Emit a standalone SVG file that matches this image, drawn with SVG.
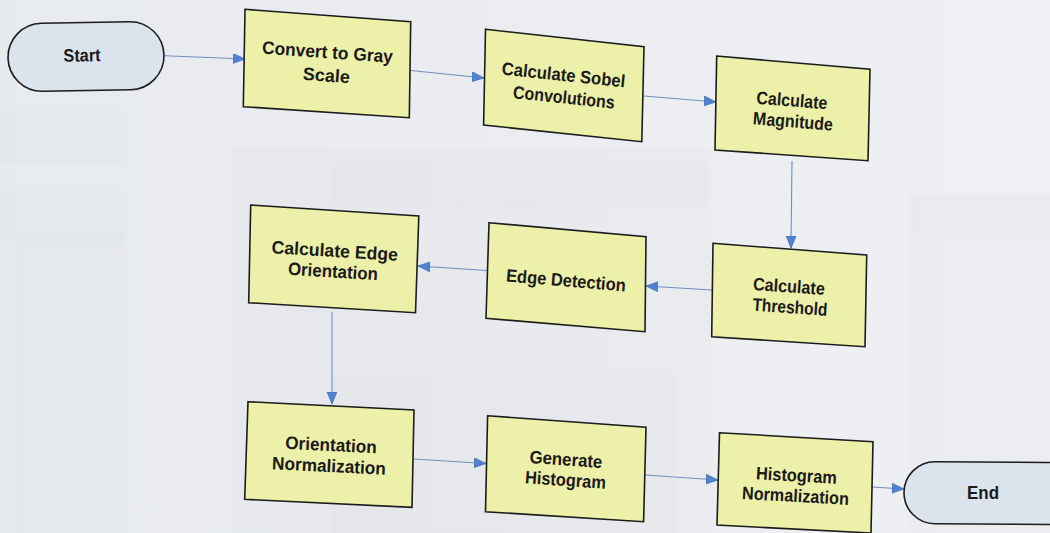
<svg xmlns="http://www.w3.org/2000/svg" width="1050" height="533" viewBox="0 0 1050 533">
  <defs>
    <linearGradient id="paper" x1="0" y1="0" x2="1" y2="0">
      <stop offset="0" stop-color="#e7eaee"/>
      <stop offset="1" stop-color="#eef0f3"/>
    </linearGradient>
    <filter id="soft" x="-5%" y="-5%" width="110%" height="110%">
      <feGaussianBlur stdDeviation="2"/>
    </filter>
    <marker id="arrow" markerUnits="userSpaceOnUse" markerWidth="13" markerHeight="11" refX="12" refY="5" orient="auto">
      <path d="M0,0 L12,5 L0,10 Z" fill="#4f82cf" stroke="#3a66a8" stroke-width="0.6"/>
    </marker>
    <style>
      .box { fill: #edf0a8; stroke: #1c1c1c; stroke-width: 1.6; stroke-linejoin: miter; }
      .pill { fill: #dbe3ec; stroke: #1c1c1c; stroke-width: 1.6; }
      .lbl { font-family: "Liberation Sans", Arial, sans-serif; font-weight: bold; font-size: 18px; fill: #1a1a1a; text-anchor: middle; }
      .link { fill: none; stroke: #6f8fbf; stroke-width: 1.1; marker-end: url(#arrow); }
      .ghost { fill: #000; fill-opacity: 0.012; stroke: #000; stroke-opacity: 0.025; stroke-width: 1.5; }
    </style>
  </defs>

  <!-- paper -->
  <rect x="0" y="0" width="1050" height="533" fill="url(#paper)"/>

  <!-- faint show-through of the page underneath -->
  <g filter="url(#soft)">
    <rect class="ghost" x="0" y="112" width="125" height="50"/>
    <rect class="ghost" x="0" y="192" width="125" height="48"/>
    <rect class="ghost" x="18" y="240" width="105" height="293"/>
    <rect class="ghost" x="232" y="150" width="478" height="383"/>
    <rect class="ghost" x="333" y="165" width="372" height="40"/>
    <rect class="ghost" x="333" y="375" width="340" height="158"/>
    <rect class="ghost" x="912" y="196" width="138" height="337"/>
    <rect class="ghost" x="912" y="196" width="138" height="38"/>
  </g>

  <!-- connectors -->
  <g id="connectors">
    <path class="link" d="M165,55.7 L245,59"/>
    <path class="link" d="M411,70.5 L484,78"/>
    <path class="link" d="M644,96 L716,102"/>
    <path class="link" d="M792,161 L791,248"/>
    <path class="link" d="M712,290 L646,286"/>
    <path class="link" d="M487,270.5 L418,266"/>
    <path class="link" d="M332,312 L332,404"/>
    <path class="link" d="M413,459 L486,463.5"/>
    <path class="link" d="M645,475 L718,480"/>
    <path class="link" d="M872,487 L904,489"/>
  </g>

  <!-- terminators -->
  <g id="start">
    <rect class="pill" x="-78" y="-34" width="156" height="68" rx="34" transform="translate(86 56.5) rotate(-1)"/>
    <text class="lbl" transform="translate(82 55) rotate(-1)" y="6.5" textLength="37" lengthAdjust="spacingAndGlyphs">Start</text>
  </g>

  <g id="end">
    <rect class="pill" x="904" y="461.5" width="175" height="62" rx="31" transform="rotate(0.4 904 492)"/>
    <text class="lbl" x="983" y="498.5" textLength="32" lengthAdjust="spacingAndGlyphs">End</text>
  </g>

  <!-- process steps -->
  <g id="convert-gray">
    <polygon class="box" points="245,9.3 410.7,21.7 409.3,117.7 243.3,106.7"/>
    <text class="lbl" transform="translate(327.5 51.7) rotate(4)" y="6.5" textLength="131" lengthAdjust="spacingAndGlyphs">Convert to Gray</text>
    <text class="lbl" transform="translate(326.5 75) rotate(4)" y="6.5" textLength="47" lengthAdjust="spacingAndGlyphs">Scale</text>
  </g>

  <g id="sobel">
    <polygon class="box" points="485.5,29.3 644,46.7 641.8,141.7 483.6,125"/>
    <text class="lbl" transform="translate(563.6 74.5) rotate(6)" y="6.5" textLength="124" lengthAdjust="spacingAndGlyphs">Calculate Sobel</text>
    <text class="lbl" transform="translate(564 97) rotate(6)" y="6.5" textLength="102" lengthAdjust="spacingAndGlyphs">Convolutions</text>
  </g>

  <g id="magnitude">
    <polygon class="box" points="716.7,56 870,69.3 868,160.7 715,150"/>
    <text class="lbl" transform="translate(792 100) rotate(4.5)" y="6.5" textLength="71" lengthAdjust="spacingAndGlyphs">Calculate</text>
    <text class="lbl" transform="translate(793 121) rotate(4.5)" y="6.5" textLength="80" lengthAdjust="spacingAndGlyphs">Magnitude</text>
  </g>

  <g id="threshold">
    <polygon class="box" points="713,243.3 866.7,255 865,346.7 711.7,336.7"/>
    <text class="lbl" transform="translate(789 286) rotate(4)" y="6.5" textLength="72" lengthAdjust="spacingAndGlyphs">Calculate</text>
    <text class="lbl" transform="translate(790 306.7) rotate(4)" y="6.5" textLength="75" lengthAdjust="spacingAndGlyphs">Threshold</text>
  </g>

  <g id="edge-detection">
    <polygon class="box" points="489,222.7 646,236.7 645,331.7 486,318.3"/>
    <text class="lbl" transform="translate(566 280) rotate(4.8)" y="6.5" textLength="120" lengthAdjust="spacingAndGlyphs">Edge Detection</text>
  </g>

  <g id="edge-orientation">
    <polygon class="box" points="250.7,205 418.8,216 415.5,312.7 248.7,302.7"/>
    <text class="lbl" transform="translate(334.8 250.5) rotate(3.5)" y="6.5" textLength="126.5" lengthAdjust="spacingAndGlyphs">Calculate Edge</text>
    <text class="lbl" transform="translate(333 271) rotate(3.5)" y="6.5" textLength="90" lengthAdjust="spacingAndGlyphs">Orientation</text>
  </g>

  <g id="orientation-normalization">
    <polygon class="box" points="248,401.7 414,410 412,507.3 244.7,499.3"/>
    <text class="lbl" transform="translate(331 444.5) rotate(2.8)" y="6.5" textLength="91.6" lengthAdjust="spacingAndGlyphs">Orientation</text>
    <text class="lbl" transform="translate(329 465.5) rotate(2.8)" y="6.5" textLength="114" lengthAdjust="spacingAndGlyphs">Normalization</text>
  </g>

  <g id="generate-histogram">
    <polygon class="box" points="487.6,415.7 646,427.3 643.6,521.7 485.5,511.7"/>
    <text class="lbl" transform="translate(566 459) rotate(4)" y="6.5" textLength="73" lengthAdjust="spacingAndGlyphs">Generate</text>
    <text class="lbl" transform="translate(565.5 479.5) rotate(4)" y="6.5" textLength="81" lengthAdjust="spacingAndGlyphs">Histogram</text>
  </g>

  <g id="histogram-normalization">
    <polygon class="box" points="719.5,432.7 873,441.7 871,533 717,525"/>
    <text class="lbl" transform="translate(796.5 475) rotate(3.2)" y="6.5" textLength="81" lengthAdjust="spacingAndGlyphs">Histogram</text>
    <text class="lbl" transform="translate(795.5 495.5) rotate(3.2)" y="6.5" textLength="107" lengthAdjust="spacingAndGlyphs">Normalization</text>
  </g>
</svg>
